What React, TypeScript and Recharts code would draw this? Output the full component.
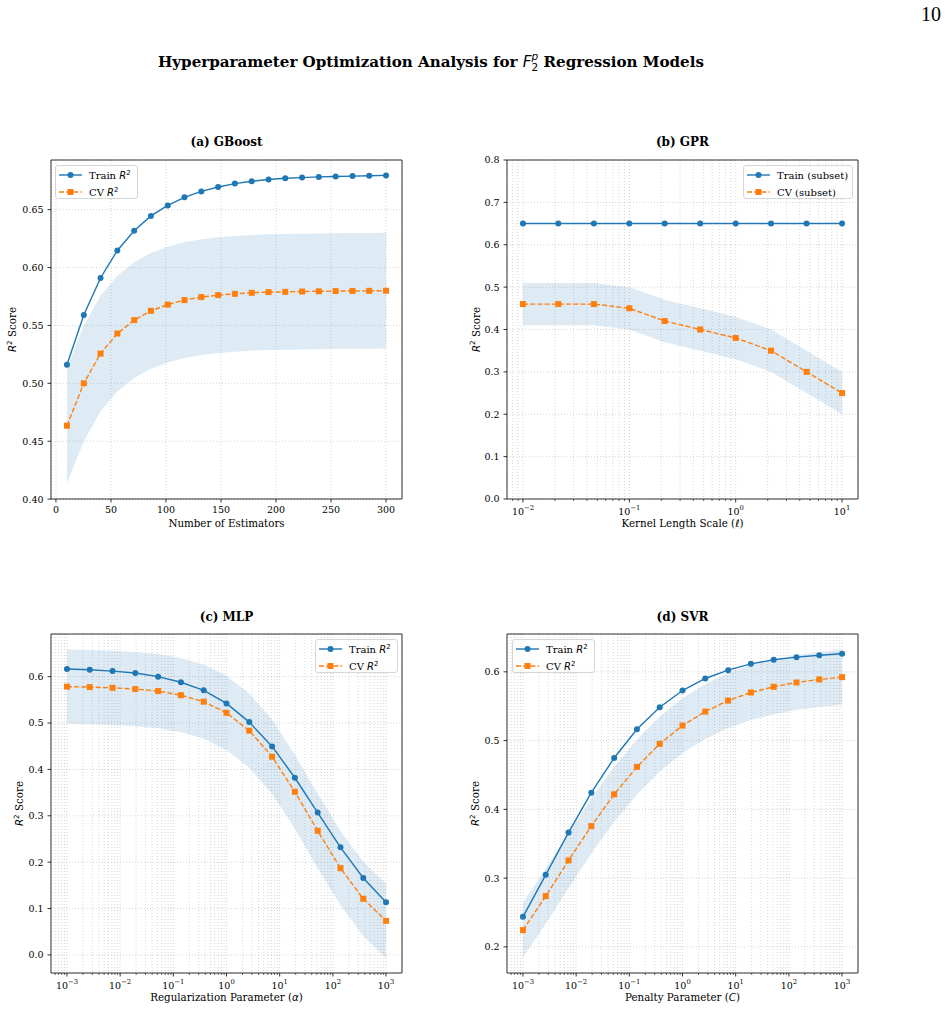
import React from "react";
import {
  ComposedChart,
  Line,
  Area,
  XAxis,
  YAxis,
  CartesianGrid,
  ReferenceArea,
  Legend,
} from "recharts";

const BLUE = "#1f77b4";
const ORANGE = "#ff7f0e";
const SERIF = "'DejaVu Serif', serif";
const SANS = "'DejaVu Sans', sans-serif";

// (a) GBoost - number of estimators
const gbEstimators = [10, 25.3, 40.5, 55.8, 71.1, 86.3, 101.6, 116.8, 132.1, 147.4, 162.6, 177.9, 193.2, 208.4, 223.7, 238.9, 254.2, 269.5, 284.7, 300];
const gbTrain = [0.516, 0.559, 0.591, 0.6148, 0.6318, 0.6446, 0.6537, 0.6607, 0.6658, 0.6696, 0.6725, 0.6745, 0.676, 0.6771, 0.6777, 0.6783, 0.6787, 0.679, 0.6793, 0.6796];
const gbCv = [0.4634, 0.5, 0.5257, 0.543, 0.5546, 0.5626, 0.568, 0.5719, 0.5745, 0.5762, 0.5773, 0.5782, 0.5788, 0.579, 0.5793, 0.5795, 0.5797, 0.5798, 0.5799, 0.58];
const gbLow = [0.4134, 0.45, 0.4757, 0.493, 0.5046, 0.5126, 0.518, 0.5219, 0.5245, 0.5262, 0.5273, 0.5282, 0.5288, 0.529, 0.5293, 0.5295, 0.5297, 0.5298, 0.5299, 0.53];
const gbHigh = [0.5134, 0.55, 0.5757, 0.593, 0.6046, 0.6126, 0.618, 0.6219, 0.6245, 0.6262, 0.6273, 0.6282, 0.6288, 0.629, 0.6293, 0.6295, 0.6297, 0.6298, 0.6299, 0.63];

// (b) GPR - kernel length scale
const gprScale = [0.01, 0.0215, 0.0464, 0.1, 0.215, 0.464, 1, 2.15, 4.64, 10];
const gprTrain = [0.65, 0.65, 0.65, 0.65, 0.65, 0.65, 0.65, 0.65, 0.65, 0.65];
const gprCv = [0.46, 0.46, 0.46, 0.45, 0.42, 0.4, 0.38, 0.35, 0.3, 0.25];
const gprLow = [0.41, 0.41, 0.41, 0.4, 0.37, 0.35, 0.33, 0.3, 0.25, 0.2];
const gprHigh = [0.51, 0.51, 0.51, 0.5, 0.47, 0.45, 0.43, 0.4, 0.35, 0.3];

// (c) MLP - regularization alpha
const mlpAlpha = [0.001, 0.00268, 0.0072, 0.0193, 0.0518, 0.139, 0.373, 1, 2.68, 7.2, 19.3, 51.8, 139, 373, 1000];
const mlpTrain = [0.6165, 0.615, 0.612, 0.608, 0.6, 0.588, 0.5705, 0.5424, 0.502, 0.4496, 0.382, 0.307, 0.232, 0.166, 0.1136];
const mlpCv = [0.5784, 0.5775, 0.576, 0.5733, 0.569, 0.56, 0.546, 0.522, 0.4835, 0.4274, 0.3518, 0.2676, 0.187, 0.121, 0.0734];
const mlpLow = [0.4984, 0.4975, 0.496, 0.4933, 0.489, 0.48, 0.466, 0.442, 0.4035, 0.3474, 0.2718, 0.1876, 0.107, 0.041, -0.0066];
const mlpHigh = [0.6584, 0.6575, 0.656, 0.6533, 0.649, 0.64, 0.626, 0.602, 0.5635, 0.5074, 0.4318, 0.3476, 0.267, 0.201, 0.1534];

// (d) SVR - penalty C
const svrC = [0.001, 0.00268, 0.0072, 0.0193, 0.0518, 0.139, 0.373, 1, 2.68, 7.2, 19.3, 51.8, 139, 373, 1000];
const svrTrain = [0.2437, 0.3048, 0.3665, 0.4242, 0.4747, 0.5165, 0.5485, 0.5728, 0.5903, 0.6024, 0.6116, 0.6175, 0.6213, 0.6242, 0.6262];
const svrCv = [0.2243, 0.2738, 0.3257, 0.3757, 0.4218, 0.4617, 0.4952, 0.5218, 0.5422, 0.5582, 0.5699, 0.5782, 0.5845, 0.5889, 0.5922];
const svrLow = [0.1843, 0.2338, 0.2857, 0.3357, 0.3818, 0.4217, 0.4552, 0.4818, 0.5022, 0.5182, 0.5299, 0.5382, 0.5445, 0.5489, 0.5522];
const svrHigh = [0.2643, 0.3138, 0.3657, 0.4157, 0.4618, 0.5017, 0.5352, 0.5618, 0.5822, 0.5982, 0.6099, 0.6182, 0.6245, 0.6289, 0.6322];

// tick labels
const gbXTicks = [0, 50, 100, 150, 200, 250, 300];
const gbYTicks = [0.4, 0.45, 0.5, 0.55, 0.6, 0.65];
const gprYTicks = [0, 0.1, 0.2, 0.3, 0.4, 0.5, 0.6, 0.7, 0.8];
const mlpYTicks = [0, 0.1, 0.2, 0.3, 0.4, 0.5, 0.6];
const svrYTicks = [0.2, 0.3, 0.4, 0.5, 0.6];

const W = 460;
const H = 430;
const MARGIN = { top: 40, right: 58, bottom: 11, left: 11 };

// majors + minors (2..9 x 10^n) inside the domain
function logTicks(lo: number, hi: number) {
  const out: number[] = [];
  for (let e = Math.floor(Math.log10(lo)); e <= Math.ceil(Math.log10(hi)); e++) {
    for (let k = 1; k < 10; k++) {
      const v = k * Math.pow(10, e);
      if (v >= lo && v <= hi) out.push(v);
    }
  }
  return out;
}

function XTick(props: any) {
  const { x, y, payload, log } = props;
  const v = payload.value;
  if (!log) {
    return (
      <g>
        <line x1={x} x2={x} y1={y} y2={y + 3.5} stroke="#000" strokeWidth={0.8} />
        <text x={x} y={y + 14.3} textAnchor="middle" fontFamily={SERIF} fontSize={9.5} fill="#000">
          {v}
        </text>
      </g>
    );
  }
  const e = Math.log10(v);
  const major = Math.abs(e - Math.round(e)) < 1e-6;
  const exp = Math.round(e);
  return (
    <g>
      <line x1={x} x2={x} y1={y} y2={y + (major ? 3.5 : 2)} stroke="#000" strokeWidth={major ? 0.8 : 0.6} />
      {major && (
        <text x={x} y={y + 15.5} textAnchor="middle" fontFamily={SERIF} fontSize={9.5} fill="#000">
          10
          <tspan fontSize={6.8} dy={-4.5}>
            {exp < 0 ? "\u2212" + Math.abs(exp) : String(exp)}
          </tspan>
        </text>
      )}
    </g>
  );
}

function YTick(props: any) {
  const { x, y, payload, digits } = props;
  return (
    <g>
      <line x1={x - 3.5} x2={x} y1={y} y2={y} stroke="#000" strokeWidth={0.8} />
      <text x={x - 7.5} y={y} dy="0.36em" textAnchor="end" fontFamily={SERIF} fontSize={9.5} fill="#000">
        {Number(payload.value).toFixed(digits)}
      </text>
    </g>
  );
}

const Sup2 = ({ size }: { size: number }) => (
  <>
    <tspan fontFamily={SANS} fontStyle="italic">R</tspan>
    <tspan fontFamily={SANS} fontSize={size * 0.7} dy={-size * 0.4}>2</tspan>
  </>
);

function LegendBox({ width, names }: { width: number; names: React.ReactNode[] }) {
  return (
    <svg width={width} height={34} style={{ display: "block" }}>
      <rect x={0.5} y={0.5} width={width - 1} height={33} rx={2.5} fill="#fff" fillOpacity={0.8} stroke="#cccccc" strokeWidth={0.8} />
      <line x1={4} x2={27} y1={10} y2={10} stroke={BLUE} strokeWidth={1.4} />
      <circle cx={15.5} cy={10} r={3} fill={BLUE} />
      <text x={34} y={13.6} fontFamily={SERIF} fontSize={10} fill="#000">
        {names[0]}
      </text>
      <line x1={4} x2={27} y1={27} y2={27} stroke={ORANGE} strokeWidth={1.4} strokeDasharray="5 2.2" />
      <rect x={12.5} y={24} width={6} height={6} fill={ORANGE} />
      <text x={34} y={30.6} fontFamily={SERIF} fontSize={10} fill="#000">
        {names[1]}
      </text>
    </svg>
  );
}

type PanelProps = {
  left: number;
  top: number;
  xs: number[];
  train: number[];
  cv: number[];
  low: number[];
  high: number[];
  xDomain: [number, number];
  xTicks: number[];
  xLog: boolean;
  yDomain: [number, number];
  yTicks: number[];
  yDigits: number;
  yLabelGap: number;
  xLabel: React.ReactNode;
  names: React.ReactNode[];
  legendLeft: number;
  legendWidth: number;
};

function Panel(p: PanelProps) {
  const rows = p.xs.map((x, i) => ({
    x,
    train: p.train[i],
    cv: p.cv[i],
    band: [p.low[i], p.high[i]],
  }));

  return (
    <div style={{ position: "absolute", left: p.left, top: p.top, width: W, height: H }}>
      <ComposedChart width={W} height={H} data={rows} margin={MARGIN}>
        <CartesianGrid stroke="#b8b8b8" strokeDasharray="1 2" strokeWidth={0.6} />
        <XAxis
          dataKey="x"
          type="number"
          scale={p.xLog ? "log" : "linear"}
          domain={p.xDomain}
          allowDataOverflow
          ticks={p.xTicks}
          interval={0}
          height={40}
          axisLine={false}
          tickLine={false}
          tickSize={0}
          tickMargin={0}
          tick={<XTick log={p.xLog} />}
          label={{
            content: (lp: any) => (
              <text
                x={lp.viewBox.x + lp.viewBox.width / 2}
                y={lp.viewBox.y + 27.5}
                textAnchor="middle"
                fontFamily={SERIF}
                fontSize={10.3}
                fill="#000"
              >
                {p.xLabel}
              </text>
            ),
          }}
        />
        <YAxis
          type="number"
          domain={p.yDomain}
          allowDataOverflow
          ticks={p.yTicks}
          interval={0}
          width={40}
          axisLine={false}
          tickLine={false}
          tickSize={0}
          tickMargin={0}
          tick={<YTick digits={p.yDigits} />}
          label={{
            content: (lp: any) => {
              const cx = lp.viewBox.x + lp.viewBox.width - p.yLabelGap;
              const cy = lp.viewBox.y + lp.viewBox.height / 2;
              return (
                <text
                  x={cx}
                  y={cy}
                  dy="0.35em"
                  transform={`rotate(-90 ${cx} ${cy})`}
                  textAnchor="middle"
                  fontFamily={SERIF}
                  fontSize={10.3}
                  fill="#000"
                >
                  <Sup2 size={10.3} />
                  <tspan dy={10.3 * 0.4}> Score</tspan>
                </text>
              );
            },
          }}
        />
        <Area
          dataKey="band"
          type="linear"
          stroke="none"
          fill={BLUE}
          fillOpacity={0.15}
          activeDot={false}
          isAnimationActive={false}
        />
        <Line
          dataKey="train"
          type="linear"
          stroke={BLUE}
          strokeWidth={1.4}
          dot={(d: any) => <circle key={`t${d.index}`} cx={d.cx} cy={d.cy} r={3} fill={BLUE} />}
          activeDot={false}
          isAnimationActive={false}
        />
        <Line
          dataKey="cv"
          type="linear"
          stroke={ORANGE}
          strokeWidth={1.4}
          strokeDasharray="5 2.2"
          dot={(d: any) => (
            <rect key={`c${d.index}`} x={d.cx - 3} y={d.cy - 3} width={6} height={6} fill={ORANGE} />
          )}
          activeDot={false}
          isAnimationActive={false}
        />
        <ReferenceArea
          x1={p.xDomain[0]}
          x2={p.xDomain[1]}
          y1={p.yDomain[0]}
          y2={p.yDomain[1]}
          fill="none"
          stroke="#000"
          strokeWidth={0.8}
          ifOverflow="visible"
        />
        <Legend
          layout="horizontal"
          verticalAlign="middle"
          align="center"
          wrapperStyle={{ left: p.legendLeft, top: 45, width: p.legendWidth, height: 34, lineHeight: 0 }}
          content={() => <LegendBox width={p.legendWidth} names={p.names} />}
        />
      </ComposedChart>
    </div>
  );
}

const r2Name = (label: string) => (
  <>
    {label + " "}
    <Sup2 size={10} />
  </>
);

const gprDomain: [number, number] = [Math.pow(10, -2.15), Math.pow(10, 1.15)];
const wideDomain: [number, number] = [Math.pow(10, -3.3), Math.pow(10, 3.3)];

const subTitles = [
  { x: 226.5, y: 146.3, text: "(a) GBoost" },
  { x: 682.5, y: 146.3, text: "(b) GPR" },
  { x: 226.5, y: 620.5, text: "(c) MLP" },
  { x: 682.5, y: 620.5, text: "(d) SVR" },
];

export default function App() {
  return (
    <div style={{ position: "absolute", left: 0, top: 0, width: 947, height: 1034, background: "#fff" }}>
      <svg width={947} height={1034} style={{ position: "absolute", left: 0, top: 0 }}>
        <text x={941} y={20.7} textAnchor="end" fontFamily="'Liberation Serif', serif" fontSize={20} fill="#000">
          10
        </text>
        <text x={431} y={67} textAnchor="middle" fontFamily={SERIF} fontWeight="bold" fontSize={15.1} fill="#000">
          {"Hyperparameter Optimization Analysis for "}
          <tspan fontFamily={SANS} fontStyle="italic" fontWeight="normal">F</tspan>
          <tspan fontFamily={SANS} fontStyle="italic" fontWeight="normal" fontSize={10.5} dy={-7}>p</tspan>
          <tspan fontFamily={SANS} fontWeight="normal" fontSize={10.5} dx={-6.6} dy={10.5}>2</tspan>
          <tspan dy={-3.5}>{" Regression Models"}</tspan>
        </text>
        {subTitles.map((t) => (
          <text key={t.text} x={t.x} y={t.y} textAnchor="middle" fontFamily={SERIF} fontWeight="bold" fontSize={12} fill="#000">
            {t.text}
          </text>
        ))}
      </svg>

      <Panel
        left={0}
        top={120}
        xs={gbEstimators}
        train={gbTrain}
        cv={gbCv}
        low={gbLow}
        high={gbHigh}
        xDomain={[-4.5, 314.5]}
        xTicks={gbXTicks}
        xLog={false}
        yDomain={[0.4001, 0.6929]}
        yTicks={gbYTicks}
        yDigits={2}
        yLabelGap={38.5}
        xLabel="Number of Estimators"
        names={[r2Name("Train"), r2Name("CV")]}
        legendLeft={55}
        legendWidth={83}
      />
      <Panel
        left={456}
        top={120}
        xs={gprScale}
        train={gprTrain}
        cv={gprCv}
        low={gprLow}
        high={gprHigh}
        xDomain={gprDomain}
        xTicks={logTicks(gprDomain[0], gprDomain[1])}
        xLog
        yDomain={[0, 0.8]}
        yTicks={gprYTicks}
        yDigits={1}
        yLabelGap={31}
        xLabel={
          <>
            {"Kernel Length Scale ("}
            <tspan fontFamily={SANS} fontStyle="italic">{"\u2113"}</tspan>
            {")"}
          </>
        }
        names={["Train (subset)", "CV (subset)"]}
        legendLeft={287}
        legendWidth={110}
      />
      <Panel
        left={0}
        top={594}
        xs={mlpAlpha}
        train={mlpTrain}
        cv={mlpCv}
        low={mlpLow}
        high={mlpHigh}
        xDomain={wideDomain}
        xTicks={logTicks(wideDomain[0], wideDomain[1])}
        xLog
        yDomain={[-0.039, 0.692]}
        yTicks={mlpYTicks}
        yDigits={1}
        yLabelGap={31.5}
        xLabel={
          <>
            {"Regularization Parameter ("}
            <tspan fontFamily={SANS} fontStyle="italic">{"\u03b1"}</tspan>
            {")"}
          </>
        }
        names={[r2Name("Train"), r2Name("CV")]}
        legendLeft={315}
        legendWidth={83}
      />
      <Panel
        left={456}
        top={594}
        xs={svrC}
        train={svrTrain}
        cv={svrCv}
        low={svrLow}
        high={svrHigh}
        xDomain={wideDomain}
        xTicks={logTicks(wideDomain[0], wideDomain[1])}
        xLog
        yDomain={[0.162, 0.655]}
        yTicks={svrYTicks}
        yDigits={1}
        yLabelGap={31.5}
        xLabel={
          <>
            {"Penalty Parameter ("}
            <tspan fontFamily={SANS} fontStyle="italic">C</tspan>
            {")"}
          </>
        }
        names={[r2Name("Train"), r2Name("CV")]}
        legendLeft={56}
        legendWidth={83}
      />
    </div>
  );
}
